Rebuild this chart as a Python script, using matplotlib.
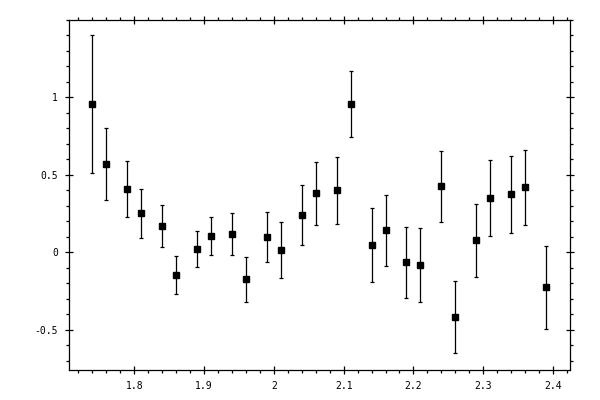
import matplotlib
matplotlib.use("Agg")
import matplotlib.pyplot as plt
from matplotlib.ticker import MultipleLocator, FixedLocator

# measured points
x = [1.74, 1.76, 1.79, 1.81, 1.84, 1.86, 1.89, 1.91, 1.94, 1.96, 1.99, 2.01, 2.04,
     2.06, 2.09, 2.11, 2.14, 2.16, 2.19, 2.21, 2.24, 2.26, 2.29, 2.31, 2.34, 2.36, 2.39]
y = [0.957, 0.570, 0.406, 0.252, 0.168, -0.148, 0.019, 0.103, 0.116, -0.174, 0.097, 0.013, 0.239,
     0.381, 0.400, 0.955, 0.045, 0.142, -0.065, -0.084, 0.426, -0.419, 0.077, 0.348, 0.374, 0.419, -0.226]
yerr = [0.443, 0.232, 0.180, 0.158, 0.136, 0.122, 0.116, 0.122, 0.134, 0.146, 0.162, 0.182, 0.192,
        0.204, 0.217, 0.213, 0.239, 0.230, 0.229, 0.237, 0.229, 0.233, 0.237, 0.246, 0.248, 0.243, 0.268]

xticks = [1.8, 1.9, 2.0, 2.1, 2.2, 2.3, 2.4]
xticklabels = ["1.8", "1.9", "2", "2.1", "2.2", "2.3", "2.4"]
yticks = [-0.5, 0, 0.5, 1]
yticklabels = ["-0.5", "0", "0.5", "1"]

fig = plt.figure(figsize=(6, 4), dpi=100)
ax = fig.add_axes([0.115, 0.075, 0.835, 0.876])

ax.errorbar(x, y, yerr=yerr, fmt="s", color="black", ms=5, elinewidth=0.9,
            capsize=1.5, capthick=0.9)

ax.set_xlim(1.7065, 2.4243)
ax.set_ylim(-0.761, 1.502)

ax.xaxis.set_major_locator(FixedLocator(xticks))
ax.set_xticklabels(xticklabels)
ax.yaxis.set_major_locator(FixedLocator(yticks))
ax.set_yticklabels(yticklabels)
ax.xaxis.set_minor_locator(MultipleLocator(0.02))
ax.yaxis.set_minor_locator(MultipleLocator(0.1))

ax.tick_params(which="major", direction="inout", length=6, width=0.9,
               top=True, right=True, labelsize=7, pad=5)
ax.tick_params(which="minor", direction="out", length=2.3, width=0.9,
               top=True, right=True)
for lab in ax.get_xticklabels() + ax.get_yticklabels():
    lab.set_family("DejaVu Sans Mono")

for sp in ax.spines.values():
    sp.set_linewidth(0.9)

fig.savefig("out.png", dpi=100)
